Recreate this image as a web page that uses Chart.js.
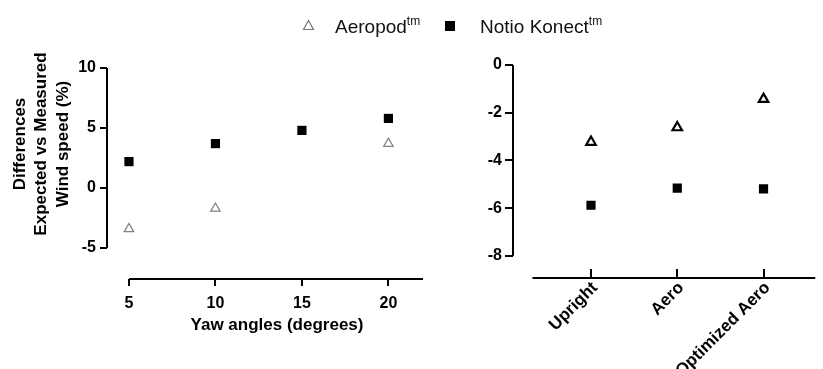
<!DOCTYPE html>
<html>
<head>
<meta charset="utf-8">
<script src="https://cdn.jsdelivr.net/npm/chart.js@4/dist/chart.umd.min.js"></script>
<style>
  body { margin: 0; background: #fff; width: 823px; height: 369px; overflow: hidden; position: relative; }
  canvas { position: absolute; top: 0; }
  #left { left: 0; }
  #right { left: 440px; }
  .lg { position: absolute; font-family: "Liberation Sans", Arial, sans-serif; font-size: 19px; line-height: 20px; color: #111; white-space: nowrap; }
  .lg sup { font-size: 12px; vertical-align: 8px; line-height: 0; }
</style>
</head>
<body>
<canvas id="left" width="440" height="369"></canvas>
<canvas id="right" width="383" height="369"></canvas>
<svg class="lg" style="left:302px;top:19px" width="13" height="12"><polygon points="6.5,1.5 11.5,10.5 1.5,10.5" fill="none" stroke="#777" stroke-width="1.2"/></svg>
<div class="lg" id="lgA" style="left:335px;top:17px"></div>
<svg class="lg" style="left:445px;top:21px" width="10" height="10"><rect x="0" y="0" width="10" height="10" fill="#000"/></svg>
<div class="lg" id="lgN" style="left:480px;top:17px"></div>
<script>
// DATA
const seriesNames = ['Aeropod', 'Notio Konect'];

const yawAngles = [5, 10, 15, 20];
const yawAeropod = [-3.4, -1.7, null, 3.7];
const yawNotio = [2.2, 3.7, 4.8, 5.8];
const yawTicks = [5, 10, 15, 20];
const diffTicks = [-5, 0, 5, 10];

const positions = ['Upright', 'Aero', 'Optimized Aero'];
const posAeropod = [-3.23, -2.62, -1.43];
const posNotio = [-5.88, -5.16, -5.19];
const posTicks = [-8, -6, -4, -2, 0];

const yTitleLines = ['Differences', 'Expected vs Measured', 'Wind speed (%)'];
const xTitle = 'Yaw angles (degrees)';

document.getElementById('lgA').innerHTML = seriesNames[0] + '<sup>tm</sup>';
document.getElementById('lgN').innerHTML = seriesNames[1] + '<sup>tm</sup>';

const FONT = "'Liberation Sans', Arial, sans-serif";
const tickFont = { family: FONT, size: 16, weight: 'bold' };

// detached prism style axes + titles
const prismAxes = {
    id: 'prismAxes',
    afterDraw(chart, args, opts) {
        const ctx = chart.ctx;
        const area = chart.chartArea;
        const xs = chart.scales.x, ys = chart.scales.y;
        ctx.save();
        ctx.strokeStyle = '#000';
        ctx.lineWidth = 2;
        ctx.beginPath();
        ctx.moveTo(area.left, ys.getPixelForValue(opts.yFrom));
        ctx.lineTo(area.left, ys.getPixelForValue(opts.yTo));
        ctx.moveTo(xs.getPixelForValue(opts.xFrom), area.bottom);
        ctx.lineTo(Math.min(xs.getPixelForValue(opts.xTo), area.right), area.bottom);
        ctx.stroke();

        ctx.fillStyle = '#000';
        ctx.font = 'bold 17px ' + FONT;
        ctx.textAlign = 'center';
        ctx.textBaseline = 'middle';
        if (opts.yTitle) {
            ctx.save();
            ctx.translate(opts.yTitleX, opts.yTitleY);
            ctx.rotate(-Math.PI / 2);
            opts.yTitle.forEach((t, i) => ctx.fillText(t, 0, i * 21.5));
            ctx.restore();
        }
        if (opts.xTitle) {
            ctx.fillText(opts.xTitle, opts.xTitleX, opts.xTitleY);
        }
        ctx.restore();
    }
};

function setTicks(list) {
    return function (scale) {
        scale.ticks = list.map(v => ({ value: v }));
    };
}

// LEFT CHART
const leftChart = new Chart('left', {
    type: 'scatter',
    data: {
        datasets: [{
            label: seriesNames[0],
            data: yawAngles.map((a, i) => ({ x: a, y: yawAeropod[i] })),
            pointStyle: 'triangle',
            pointRadius: 5.5,
            borderColor: '#808080',
            backgroundColor: 'rgba(255,255,255,0)',
            borderWidth: 1.2,
            order: 1
        }, {
            label: seriesNames[1],
            data: yawAngles.map((a, i) => ({ x: a, y: yawNotio[i] })),
            pointStyle: 'rect',
            pointRadius: 6.5,
            borderColor: '#000',
            backgroundColor: '#000',
            borderWidth: 0,
            order: 0
        }]
    },
    options: {
        responsive: false,
        animation: false,
        layout: { padding: { top: 68, right: 17, left: 0, bottom: 0 } },
        plugins: {
            legend: { display: false },
            tooltip: { enabled: false },
            prismAxes: {
                yFrom: -5, yTo: 10, xFrom: 5, xTo: 22,
                yTitle: yTitleLines, yTitleX: 20, yTitleY: 144,
                xTitle: xTitle, xTitleX: 277, xTitleY: 325
            }
        },
        scales: {
            x: {
                type: 'linear', min: 3.73, max: 22,
                afterBuildTicks: setTicks(yawTicks),
                afterFit: s => { s.height = 90; },
                border: { display: false },
                grid: { drawOnChartArea: false, drawTicks: true, tickLength: 7, color: '#000', lineWidth: 2 },
                ticks: { color: '#000', font: tickFont, padding: 8, maxRotation: 0 }
            },
            y: {
                min: -7.58, max: 10,
                afterBuildTicks: setTicks(diffTicks),
                afterFit: s => { s.width = 107; },
                border: { display: false },
                grid: { drawOnChartArea: false, drawTicks: true, tickLength: 7, color: '#000', lineWidth: 2 },
                ticks: { color: '#000', font: tickFont, padding: 4 }
            }
        }
    },
    plugins: [prismAxes]
});

// RIGHT CHART
const rightChart = new Chart('right', {
    type: 'scatter',
    data: {
        datasets: [{
            label: seriesNames[0],
            data: positions.map((p, i) => ({ x: i, y: posAeropod[i] })),
            pointStyle: 'triangle',
            pointRadius: 5.5,
            borderColor: '#000',
            backgroundColor: 'rgba(255,255,255,0)',
            borderWidth: 2.2,
            order: 1
        }, {
            label: seriesNames[1],
            data: positions.map((p, i) => ({ x: i, y: posNotio[i] })),
            pointStyle: 'rect',
            pointRadius: 6.5,
            borderColor: '#000',
            backgroundColor: '#000',
            borderWidth: 0,
            order: 0
        }]
    },
    options: {
        responsive: false,
        animation: false,
        layout: { padding: { top: 65, right: 0, left: 0, bottom: 0 } },
        plugins: {
            legend: { display: false },
            tooltip: { enabled: false },
            prismAxes: { yFrom: -8, yTo: 0, xFrom: -0.678, xTo: 2.6 }
        },
        scales: {
            x: {
                type: 'linear', min: -0.904, max: 2.6,
                afterBuildTicks: setTicks([0, 1, 2]),
                afterFit: s => { s.height = 91; },
                border: { display: false },
                grid: { drawOnChartArea: false, drawTicks: true, tickLength: -9, color: '#000', lineWidth: 2 },
                ticks: {
                    color: '#000', font: { family: FONT, size: 17, weight: 'bold' },
                    padding: 9, labelOffset: 4,
                    minRotation: 45, maxRotation: 45, autoSkip: false,
                    callback: v => positions[v]
                }
            },
            y: {
                min: -8.93, max: 0,
                afterBuildTicks: setTicks(posTicks),
                afterFit: s => { s.width = 73; },
                border: { display: false },
                grid: { drawOnChartArea: false, drawTicks: true, tickLength: 8, color: '#000', lineWidth: 2 },
                ticks: { color: '#000', font: tickFont, padding: 3 }
            }
        }
    },
    plugins: [prismAxes]
});
</script>
</body>
</html>
